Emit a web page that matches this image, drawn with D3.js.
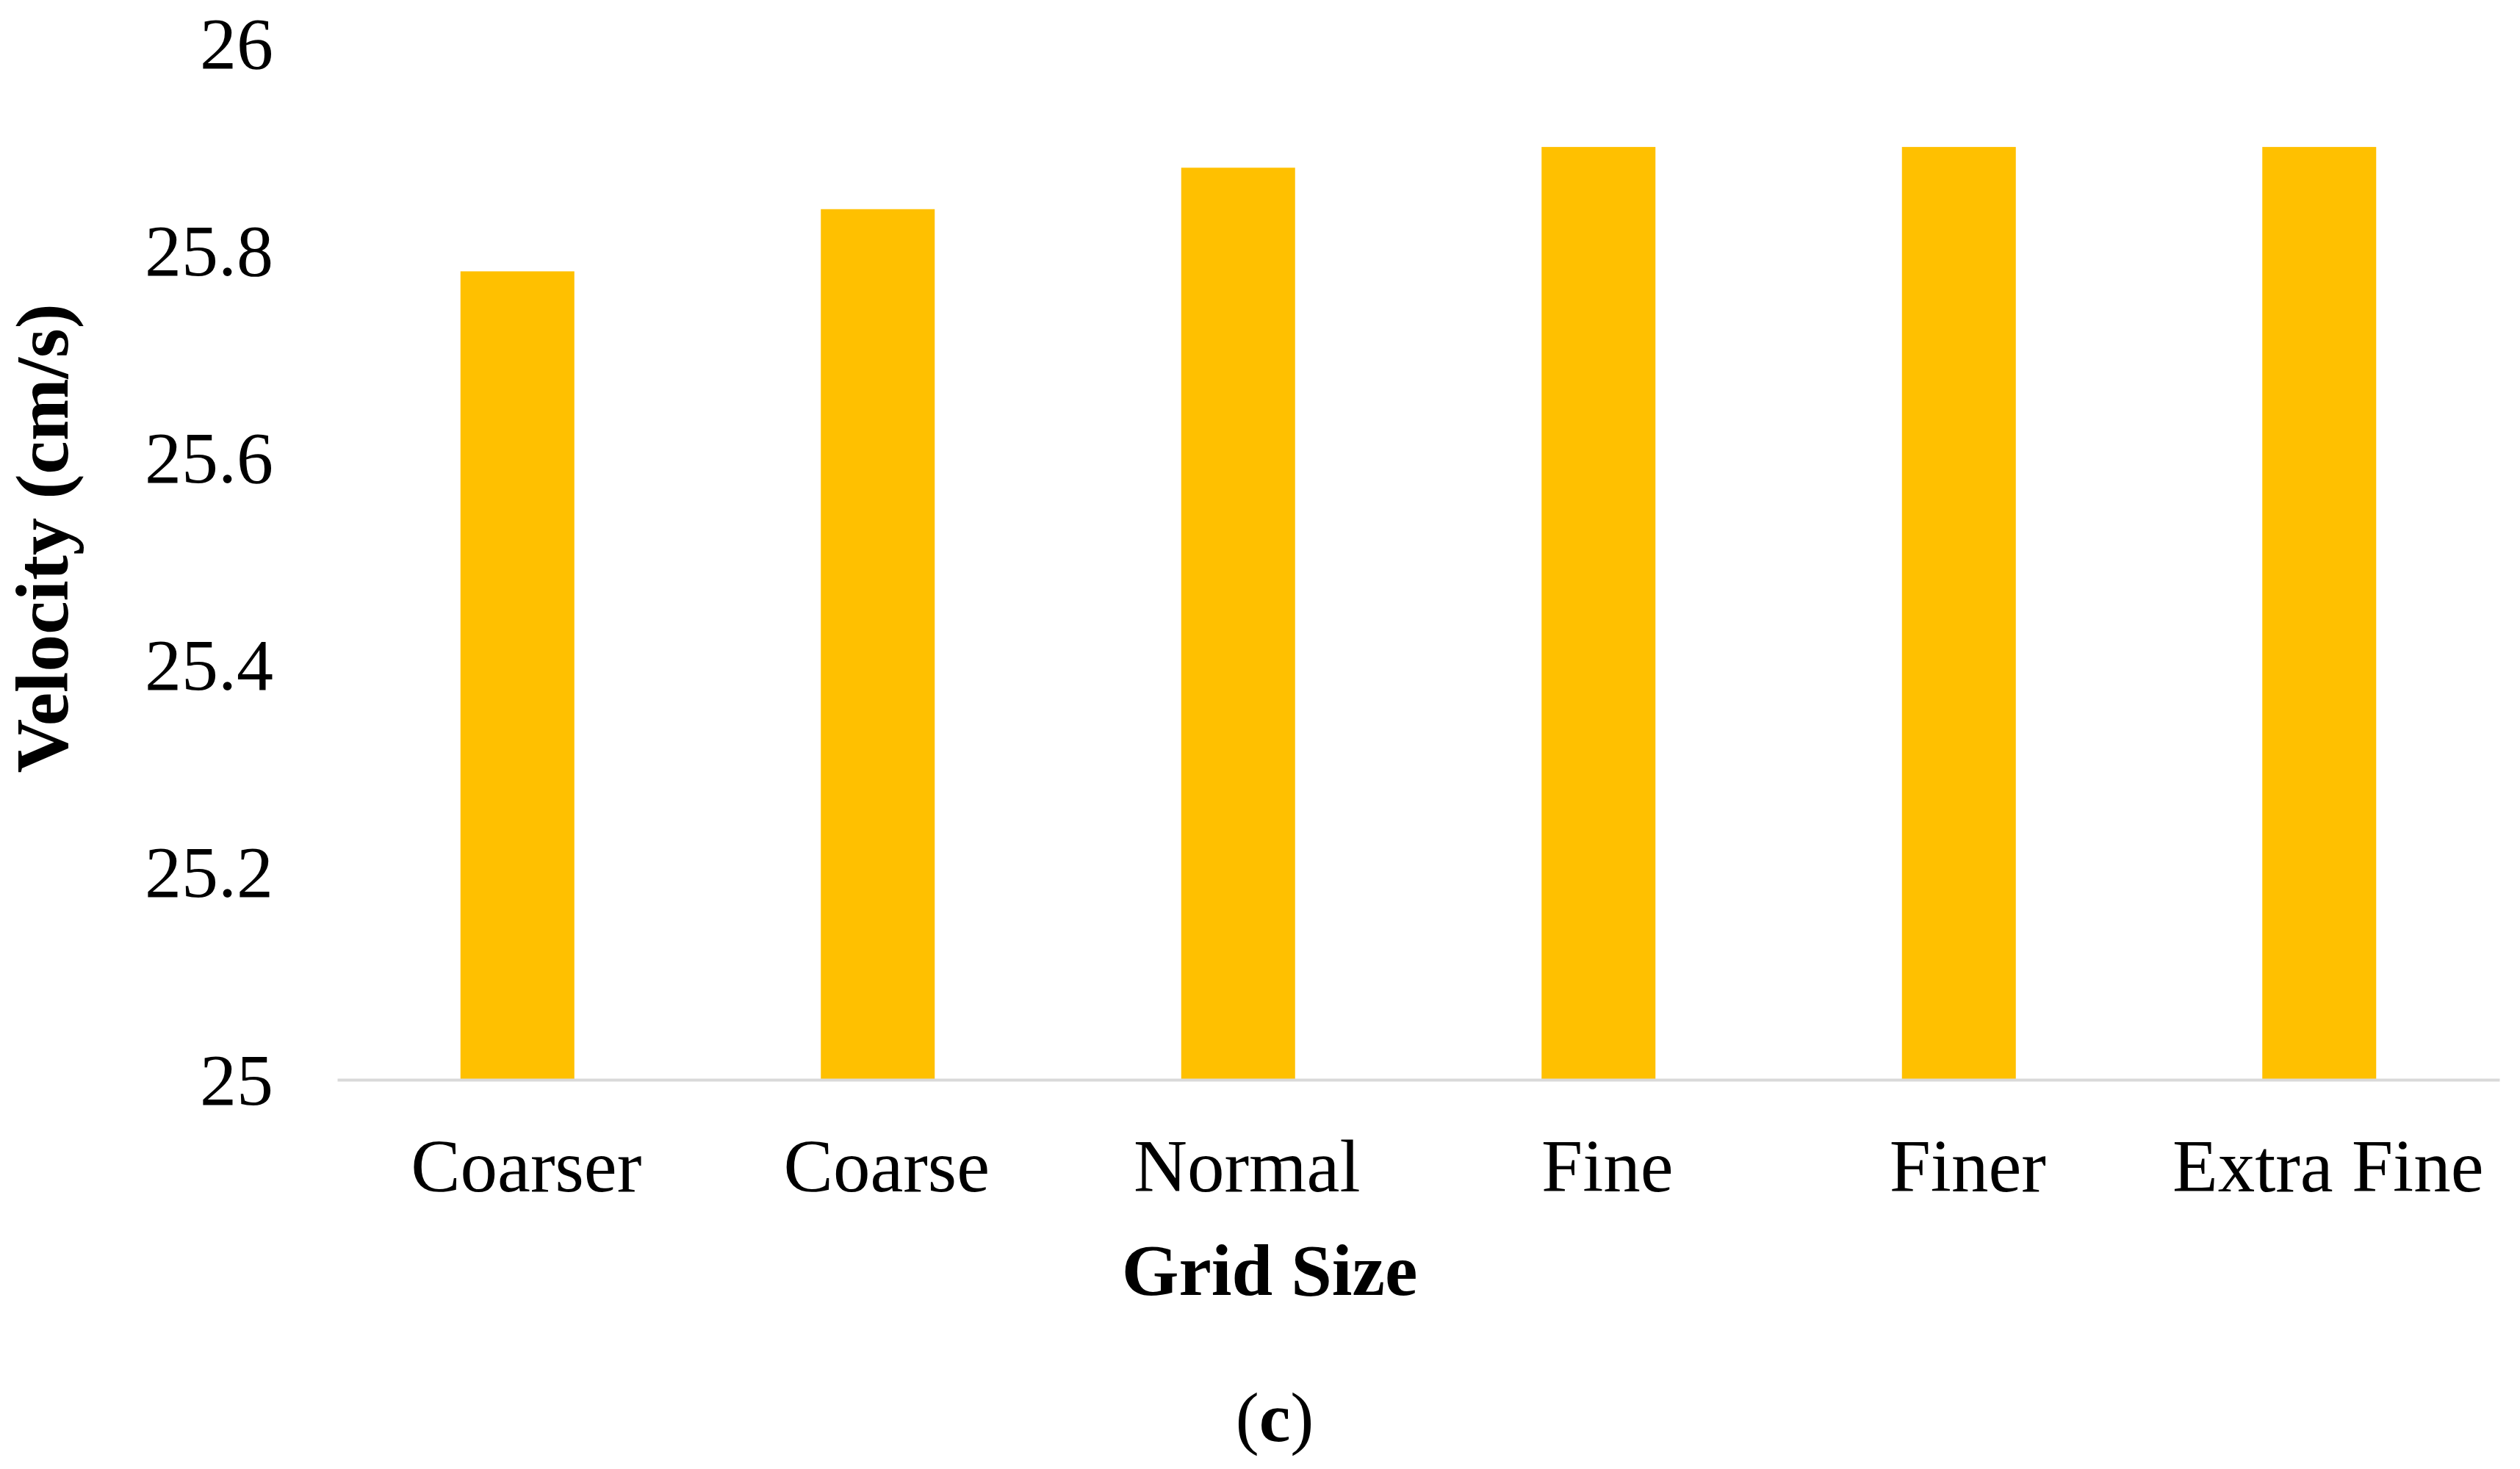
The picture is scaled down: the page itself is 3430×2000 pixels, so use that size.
<!DOCTYPE html>
<html>
<head>
<meta charset="utf-8">
<script src="https://cdn.jsdelivr.net/npm/d3@7"></script>
<style>
  html, body { margin: 0; padding: 0; background: #ffffff; }
  svg { display: block; }
</style>
</head>
<body>
<script>
const categories = ["Coarser", "Coarse", "Normal", "Fine", "Finer", "Extra Fine"];
const velocities = [25.78, 25.84, 25.88, 25.90, 25.90, 25.90];
const yTicks = [25, 25.2, 25.4, 25.6, 25.8, 26];
const yTickLabels = ["25", "25.2", "25.4", "25.6", "25.8", "26"];
const xTitle = "Grid Size";
const yTitle = "Velocity (cm/s)";
const caption = "c";

(function () {
const W = 3430, H = 2000;
const plotLeft = 459, plotRight = 3402, plotTop = 59, plotBottom = 1470;
const font = "'Liberation Serif', 'Times New Roman', serif";

const svg = d3.select("body").append("svg").attr("width", W).attr("height", H);

const x = d3.scaleBand().domain(categories).range([plotLeft, plotRight])
  .paddingInner(0.684).paddingOuter(0.342);
const y = d3.scaleLinear().domain([25, 26]).range([plotBottom, plotTop]);

// bars
svg.append("g").selectAll("rect").data(categories).join("rect")
  .attr("x", d => x(d))
  .attr("width", x.bandwidth())
  .attr("y", (d, i) => y(velocities[i]))
  .attr("height", (d, i) => y(25) - y(velocities[i]))
  .attr("fill", "#FFC000");

// x axis
const xAxis = svg.append("g").attr("transform", `translate(0,${plotBottom})`)
  .call(d3.axisBottom(x).tickSize(0).tickPadding(0));
xAxis.select(".domain").attr("stroke", "#d9d9d9").attr("stroke-width", 4);
xAxis.selectAll("text")
  .attr("font-family", font).attr("font-size", 101).attr("fill", "#000")
  .attr("dy", null).attr("y", 152).attr("dx", 12);

// y axis (labels only)
const yAxis = svg.append("g").attr("transform", `translate(${plotLeft},0)`)
  .call(d3.axisLeft(y).tickValues(yTicks).tickFormat((d, i) => yTickLabels[i]).tickSize(0).tickPadding(87));
yAxis.select(".domain").remove();
yAxis.selectAll("text")
  .attr("font-family", font).attr("font-size", 100).attr("fill", "#000")
  .attr("dy", "0.33em");

// axis titles
svg.append("text")
  .attr("x", 1728).attr("y", 1763)
  .attr("text-anchor", "middle")
  .attr("font-family", font).attr("font-weight", "bold").attr("font-size", 100)
  .text(xTitle);

svg.append("text")
  .attr("transform", `translate(92,733) rotate(-90)`)
  .attr("text-anchor", "middle")
  .attr("font-family", font).attr("font-weight", "bold").attr("font-size", 102)
  .text(yTitle);

// caption
const cap = svg.append("text")
  .attr("x", 1735).attr("y", 1962)
  .attr("text-anchor", "middle")
  .attr("font-family", font).attr("font-size", 96);
cap.append("tspan").text("(");
cap.append("tspan").attr("font-weight", "bold").text(caption);
cap.append("tspan").text(")");
})();
</script>
</body>
</html>
